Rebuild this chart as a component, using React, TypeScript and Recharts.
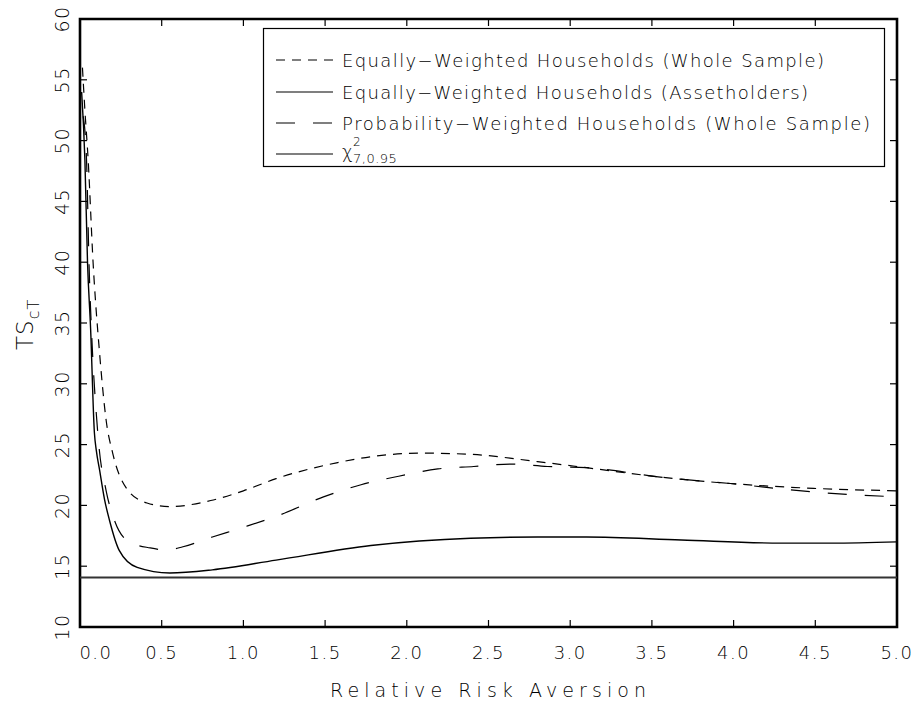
import React from 'react';
import { LineChart, Line, XAxis, YAxis, ReferenceArea, ReferenceLine } from 'recharts';

// ---- data ----
const xTicks = [0, 0.5, 1, 1.5, 2, 2.5, 3, 3.5, 4, 4.5, 5];
const yTicks = [10, 15, 20, 25, 30, 35, 40, 45, 50, 55, 60];

const ewWholeX = [0.015, 0.03, 0.05, 0.08, 0.12, 0.16, 0.2, 0.29, 0.41, 0.55, 0.8, 1.0, 1.2, 1.57, 1.78, 2.08, 2.39, 2.8, 3.1, 3.57, 3.98, 4.49, 5.0];
const ewWholeY = [56, 52.5, 48.4, 40, 32.5, 27.0, 24.3, 21.3, 20.2, 19.9, 20.4, 21.2, 22.2, 23.5, 24.0, 24.3, 24.2, 23.6, 23.1, 22.3, 21.8, 21.4, 21.2];

const ewAssetX = [0.01, 0.03, 0.046, 0.065, 0.088, 0.1, 0.12, 0.15, 0.18, 0.24, 0.35, 0.55, 0.81, 1.2, 1.78, 2.39, 2.8, 3.1, 3.68, 4.29, 4.6, 5.0];
const ewAssetY = [54, 48.4, 40, 34.5, 26, 24.5, 22.9, 20.5, 18.8, 16.3, 14.9, 14.44, 14.7, 15.5, 16.7, 17.3, 17.4, 17.4, 17.15, 16.9, 16.9, 17.0];

const pwWholeX = [0.02, 0.04, 0.055, 0.075, 0.1, 0.115, 0.16, 0.21, 0.3, 0.43, 0.53, 0.63, 0.81, 1.0, 1.22, 1.49, 1.72, 1.95, 2.19, 2.41, 2.63, 2.86, 3.1, 3.57, 3.98, 4.49, 5.0];
const pwWholeY = [52, 48.4, 40, 33, 27.5, 25, 21.2, 18.8, 17.0, 16.5, 16.33, 16.6, 17.4, 18.2, 19.2, 20.7, 21.7, 22.4, 23.0, 23.2, 23.4, 23.2, 23.1, 22.3, 21.8, 21.1, 20.7];

const CHI2_CRIT = 14.07;

const legendLabels = [
  'Equally\u2212Weighted Households (Whole Sample)',
  'Equally\u2212Weighted Households (Assetholders)',
  'Probability\u2212Weighted Households (Whole Sample)',
];

const toRows = (xs: number[], ys: number[]) => xs.map((x, i) => ({ x, y: ys[i] }));
const ewWhole = toRows(ewWholeX, ewWholeY);
const ewAsset = toRows(ewAssetX, ewAssetY);
const pwWhole = toRows(pwWholeX, pwWholeY);

// ---- layout ----
const W = 917;
const H = 703;
const PL = 80;
const PR = 897;
const PT = 19;
const PB = 627;
const FONT = '"DejaVu Sans", sans-serif';
const FW = 200;
const TXT = '#000';
const TICK = 7;

const XTick = (props: any) => {
  const { x, payload, index } = props;
  const dx = index === 0 ? 16 : 0;
  return (
    <g>
      <line x1={x} x2={x} y1={PB} y2={PB - TICK} stroke="#000" strokeWidth={1.2} />
      <line x1={x} x2={x} y1={PT} y2={PT + TICK} stroke="#000" strokeWidth={1.2} />
      <text x={x + dx} y={659} textAnchor="middle" fontFamily={FONT} fontWeight={FW} fontSize={18} fill={TXT} letterSpacing={1.5}>
        {Number(payload.value).toFixed(1)}
      </text>
    </g>
  );
};

const YTick = (props: any) => {
  const { y, payload } = props;
  const lx = 62;
  return (
    <g>
      <line x1={PL} x2={PL + TICK} y1={y} y2={y} stroke="#000" strokeWidth={1.2} />
      <line x1={PR} x2={PR - TICK} y1={y} y2={y} stroke="#000" strokeWidth={1.2} />
      <text
        x={lx}
        y={y}
        transform={`rotate(-90 ${lx} ${y})`}
        textAnchor="middle"
        dominantBaseline="central"
        fontFamily={FONT}
        fontWeight={FW}
        fontSize={19}
        fill={TXT}
        letterSpacing={1.5}
      >
        {payload.value}
      </text>
    </g>
  );
};

const Overlay = () => {
  const rowY = [60, 92, 123, 154];
  const sx1 = 276;
  const sx2 = 333;
  const tx = 342;
  const widths = [482, 466, 528];
  return (
    <svg width={W} height={H} style={{ position: 'absolute', left: 0, top: 0, pointerEvents: 'none' }}>
      {/* legend box */}
      <rect x={263.5} y={28.5} width={621} height={138} fill="#fff" stroke="#000" strokeWidth={1.2} />
      <line x1={sx1} x2={sx2} y1={rowY[0]} y2={rowY[0]} stroke="#000" strokeWidth={1.2} strokeDasharray="9 7" />
      <line x1={sx1} x2={sx2} y1={rowY[1]} y2={rowY[1]} stroke="#000" strokeWidth={1.2} />
      <line x1={sx1} x2={sx2} y1={rowY[2]} y2={rowY[2]} stroke="#000" strokeWidth={1.2} strokeDasharray="19 18" />
      <line x1={sx1} x2={sx2} y1={rowY[3]} y2={rowY[3]} stroke="#000" strokeWidth={1.2} />
      {legendLabels.map((t, i) => (
        <text
          key={t}
          x={tx}
          y={rowY[i] + 7}
          fontFamily={FONT}
          fontWeight={FW}
          fontSize={18}
          fill={TXT}
          textLength={widths[i]}
          lengthAdjust="spacing"
        >
          {t}
        </text>
      ))}
      <text x={tx} y={158} fontFamily={FONT} fontWeight={FW} fontSize={18} fill={TXT}>χ</text>
      <text x={353} y={146} fontFamily={FONT} fontWeight={FW} fontSize={12} fill={TXT}>2</text>
      <text x={353} y={163} fontFamily={FONT} fontWeight={FW} fontSize={13} fill={TXT} letterSpacing={0.5}>7,0.95</text>
      {/* axis titles */}
      <text x={488} y={697} textAnchor="middle" fontFamily={FONT} fontWeight={FW} fontSize={19} fill={TXT} textLength={316} lengthAdjust="spacing">
        Relative Risk Aversion
      </text>
      <text x={33} y={350} transform="rotate(-90 33 350)" fontFamily={FONT} fontWeight={FW} fontSize={23} fill={TXT} letterSpacing={1}>
        <tspan>TS</tspan>
        <tspan fontSize={16} dy={6}>cT</tspan>
      </text>
    </svg>
  );
};

export default function App() {
  return (
    <div style={{ position: 'absolute', left: 0, top: 0, width: W, height: H, background: '#fff' }}>
      <LineChart width={W} height={H} margin={{ top: PT, right: W - PR, bottom: 16, left: 10 }}>
        <XAxis
          dataKey="x"
          type="number"
          domain={[0, 5]}
          ticks={xTicks}
          allowDataOverflow
          axisLine={false}
          tickLine={false}
          tick={<XTick />}
          height={60}
          interval={0}
        />
        <YAxis
          type="number"
          domain={[10, 60]}
          ticks={yTicks}
          allowDataOverflow
          axisLine={false}
          tickLine={false}
          tick={<YTick />}
          width={70}
          interval={0}
        />
        <ReferenceLine y={CHI2_CRIT} stroke="#333" strokeWidth={2} />
        <Line data={ewWhole} dataKey="y" type="monotone" stroke="#000" strokeWidth={1.2} strokeDasharray="9 7" dot={false} isAnimationActive={false} />
        <Line data={ewAsset} dataKey="y" type="monotone" stroke="#000" strokeWidth={1.4} dot={false} isAnimationActive={false} />
        <Line data={pwWhole} dataKey="y" type="monotone" stroke="#000" strokeWidth={1.2} strokeDasharray="19 18" dot={false} isAnimationActive={false} />
        <ReferenceArea x1={0} x2={5} y1={10} y2={60} fill="none" stroke="#000" strokeWidth={2.6} ifOverflow="visible" />
      </LineChart>
      <Overlay />
    </div>
  );
}
